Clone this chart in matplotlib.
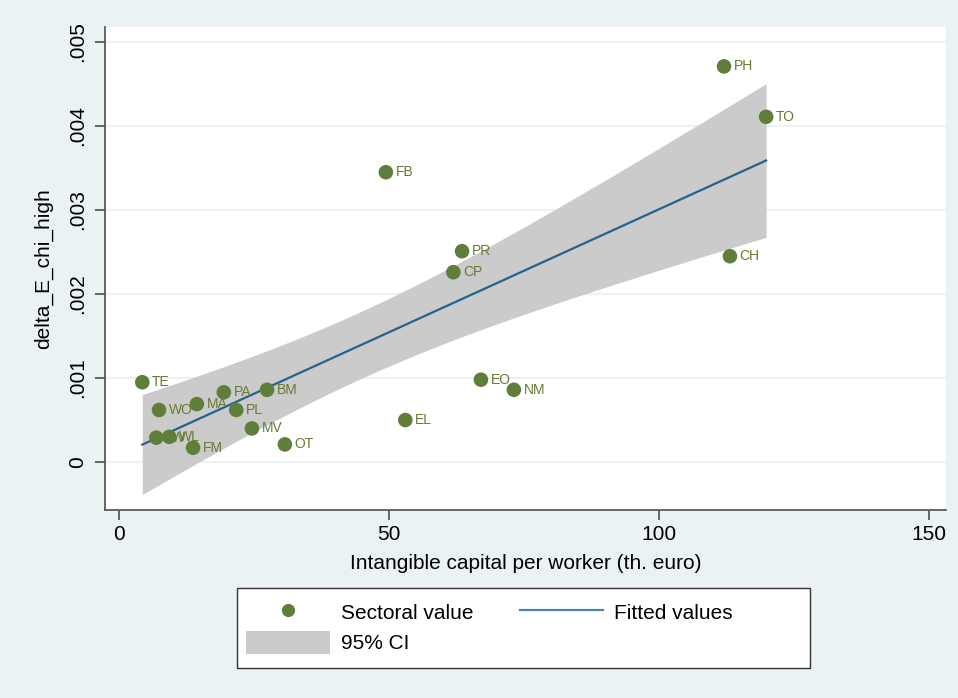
import numpy as np
import matplotlib.pyplot as plt
from matplotlib.patches import Patch, Rectangle
from matplotlib.lines import Line2D

plt.rcParams['font.family'] = ['Liberation Sans', 'DejaVu Sans']

# sector data
sectors = ['TE', 'WO', 'MA', 'PA', 'BM', 'PL', 'MV', 'OT', 'FM', 'LW', 'WL',
           'EL', 'EO', 'NM', 'CP', 'PR', 'FB', 'CH', 'PH', 'TO']
capital = [4.3, 7.4, 14.4, 19.4, 27.4, 21.7, 24.6, 30.7, 13.7, 6.9, 9.3,
           53.0, 67.0, 73.1, 61.9, 63.5, 49.4, 113.1, 112.0, 119.8]
delta = [0.00095, 0.00062, 0.00069, 0.00083, 0.00086, 0.00062, 0.00040, 0.00021,
         0.00017, 0.00029, 0.00030, 0.00050, 0.00098, 0.00086, 0.00226, 0.00251,
         0.00345, 0.00245, 0.00471, 0.00411]

xticks = [0, 50, 100, 150]
yticks = [0, 0.001, 0.002, 0.003, 0.004, 0.005]
ytick_labels = ['0', '.001', '.002', '.003', '.004', '.005']

x = np.array(capital)
y = np.array(delta)

# linear fit with 95% CI of the mean prediction (like Stata lfitci)
n = len(x)
b, a = np.polyfit(x, y, 1)
resid = y - (a + b * x)
s = np.sqrt(np.sum(resid ** 2) / (n - 2))
sxx = np.sum((x - x.mean()) ** 2)
t975 = 2.101  # t quantile, 18 df
xs = np.linspace(x.min(), x.max(), 100)
yhat = a + b * xs
se = s * np.sqrt(1.0 / n + (xs - x.mean()) ** 2 / sxx)
lo = yhat - t975 * se
hi = yhat + t975 * se

bg = '#eaf2f3'
green = '#5e7e3a'
blue = '#22638f'
gray_ci = '#cbcbcb'

fig = plt.figure(figsize=(9.58, 6.98), dpi=100, facecolor=bg)
ax = fig.add_axes([105 / 958, 1 - 510 / 698, (946 - 105) / 958, (510 - 27) / 698])
ax.set_facecolor('white')

ax.fill_between(xs, lo, hi, color=gray_ci, lw=0, zorder=1)
ax.plot(xs, yhat, color=blue, lw=1.6, zorder=2)
ax.scatter(x, y, s=110, color=green, edgecolors='none', zorder=3)
for lab, xi, yi in zip(sectors, x, y):
    ax.annotate(lab, (xi, yi), xytext=(7, 0), textcoords='offset points',
                va='center', ha='left', fontsize=10, color='#667a30', zorder=2.5)

ax.set_xlim(-2.6, 153.1)
ax.set_ylim(-0.000571, 0.005179)
ax.set_xticks(xticks)
ax.set_yticks(yticks)
ax.set_yticklabels(ytick_labels)
ax.grid(axis='y', color=bg, lw=1.5, zorder=0)
ax.set_axisbelow(True)

for side in ['top', 'right']:
    ax.spines[side].set_visible(False)
for side in ['left', 'bottom']:
    ax.spines[side].set_color('#5a5a5a')
    ax.spines[side].set_linewidth(1.3)

ax.tick_params(axis='both', length=7, width=1.3, color='#5a5a5a', labelsize=15)
ax.tick_params(axis='x', pad=4)
ax.tick_params(axis='y', pad=6)
for t in ax.get_yticklabels():
    t.set_rotation(90)
    t.set_va('center')

ax.set_xlabel('Intangible capital per worker (th. euro)', fontsize=15, labelpad=7)
ax.set_ylabel('delta_E_chi_high', fontsize=15, labelpad=11)

# legend frame (wider than its contents, as in the original)
frame = Rectangle((237 / 958, 1 - 668 / 698), (810 - 237) / 958, 80 / 698,
                  transform=fig.transFigure, facecolor='white',
                  edgecolor='#333333', lw=1.0, zorder=1)
fig.patches.append(frame)

handles = [
    Line2D([], [], marker='o', color=green, ls='none', markersize=9.5, markeredgewidth=0),
    Patch(facecolor=gray_ci, edgecolor='none'),
    Line2D([], [], color='#4f84a8', lw=1.6),
]
labels = ['Sectoral value', '95% CI', 'Fitted values']
leg = fig.legend(handles, labels, ncol=2, loc='upper left',
                 bbox_to_anchor=(237 / 958, 1 - 591 / 698), fontsize=15,
                 frameon=False, handlelength=4.0, handleheight=1.3,
                 columnspacing=2.2, handletextpad=0.55, borderpad=0.45,
                 borderaxespad=0, labelspacing=0.38)
leg.set_zorder(2)

fig.savefig('out.png', dpi=100, facecolor=bg)
